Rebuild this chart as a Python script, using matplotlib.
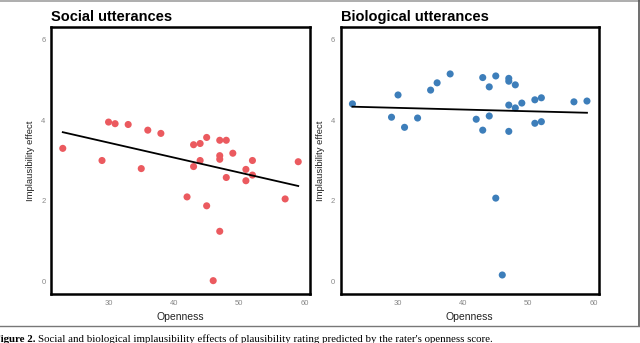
import matplotlib
matplotlib.use("Agg")
import matplotlib.pyplot as plt
from matplotlib.lines import Line2D

# openness score of each rater (shared by both panels)
openness = [23, 29, 30, 31, 33, 35, 36, 38, 42, 43, 43, 44, 44, 45, 45,
            46, 47, 47, 47, 47, 48, 48, 49, 51, 51, 52, 52, 57, 59]
social = [3.30, 3.00, 3.95, 3.91, 3.89, 2.80, 3.75, 3.67, 2.10, 3.39, 2.85,
          3.42, 3.00, 3.57, 1.88, 0.03, 3.50, 3.12, 3.03, 1.25, 3.50, 2.58,
          3.18, 2.78, 2.50, 3.00, 2.64, 2.05, 2.97]
biological = [4.40, 4.07, 4.62, 3.82, 4.05, 4.74, 4.92, 5.14, 4.02, 5.05, 3.75,
              4.82, 4.10, 5.09, 2.07, 0.17, 5.03, 4.96, 4.37, 3.72, 4.87, 4.30,
              4.42, 4.50, 3.92, 4.55, 3.96, 4.45, 4.47]

# regression line ends
fit_x = [23, 59]
social_fit = [3.70, 2.37]
bio_fit = [4.33, 4.18]

x_ticks = [30, 40, 50, 60]
y_ticks = [0, 2, 4, 6]

plt.rcParams["font.family"] = ["Liberation Sans", "DejaVu Sans"]

W, H = 640, 343
fig = plt.figure(figsize=(W / 100, H / 100), dpi=100)


def px_axes(l, r, t, b):
    return [l / W, 1 - b / H, (r - l) / W, (b - t) / H]


panels = [
    ("Social utterances", social, social_fit, "#EB5A5F", px_axes(51, 310, 27, 294)),
    ("Biological utterances", biological, bio_fit, "#3D7EBA", px_axes(340.7, 598.7, 27, 294)),
]

for title, vals, fit, color, rect in panels:
    ax = fig.add_axes(rect)
    ax.scatter(openness, vals, s=26, color=color, edgecolors="none", zorder=3)
    ax.plot(fit_x, fit, color="black", lw=1.3, zorder=4)
    ax.set_xlim(21.2, 60.8)
    ax.set_ylim(-0.3, 6.3)
    ax.set_xticks(x_ticks)
    ax.set_yticks(y_ticks)
    ax.tick_params(length=0, labelsize=5.5, labelcolor="#888888", pad=4)
    for sp in ax.spines.values():
        sp.set_linewidth(1.8)
        sp.set_color("black")
    ax.set_xlabel("Openness", fontsize=7.5, color="#222222")
    ax.set_ylabel("Implausibility effect", fontsize=6.8, color="#222222")
    ax.yaxis.set_label_coords(-16 / 259, 0.5)
    ax.xaxis.set_label_coords(0.5, -18 / 267)
    fig.text(rect[0], 1 - 20.7 / H, title, fontsize=10.5, fontweight="bold",
             ha="left", va="baseline")

# page frame around the figure
fig.add_artist(Line2D([0, 1], [1 - 0.8 / H, 1 - 0.8 / H], color="#a0a0a0", lw=1.2))
fig.add_artist(Line2D([638.5 / W, 638.5 / W], [1 - 326 / H, 1], color="#555555", lw=1.2))
fig.add_artist(Line2D([0, 638.5 / W], [1 - 326 / H, 1 - 326 / H], color="#777777", lw=1.0))

# caption, cut at the left edge
fig.text(35 / W, 1 - 341.5 / H, "Figure 2.", family="Liberation Serif",
         fontweight="bold", fontsize=7.8, ha="right", va="baseline")
fig.text(38 / W, 1 - 341.5 / H,
         "Social and biological implausibility effects of plausibility rating "
         "predicted by the rater's openness score.",
         family="Liberation Serif", fontsize=7.8, ha="left", va="baseline")

fig.savefig("out.png", dpi=100)
